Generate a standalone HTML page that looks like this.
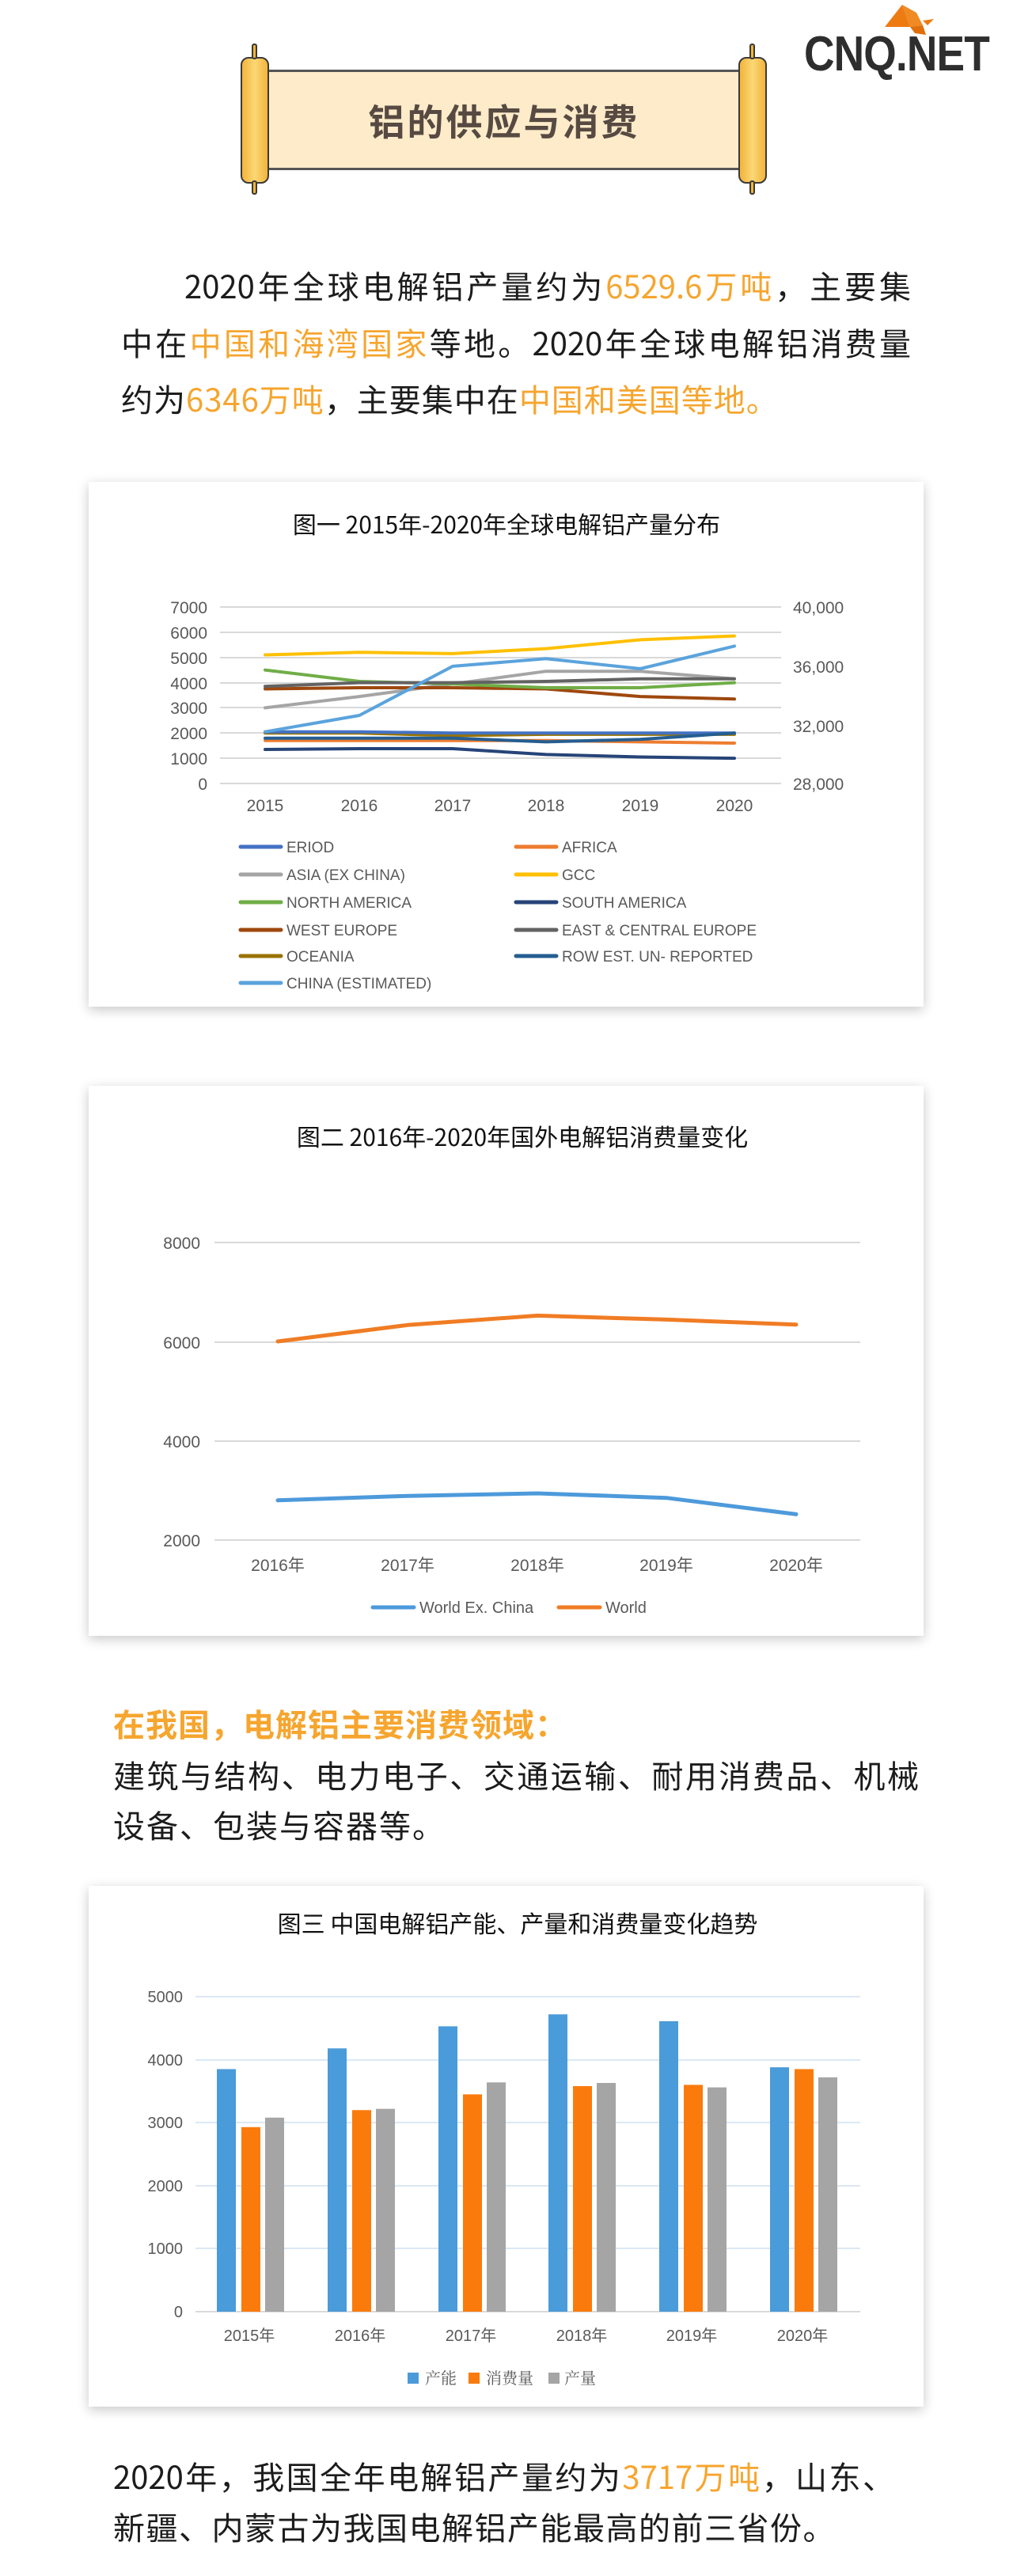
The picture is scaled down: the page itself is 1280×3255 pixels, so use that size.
<!DOCTYPE html>
<html><head><meta charset="utf-8">
<style>
*{margin:0;padding:0;box-sizing:border-box}
body{width:1280px;height:3255px;background:#fff;position:relative;overflow:hidden;font-family:"Liberation Sans","Noto Sans CJK SC",sans-serif}
.abs{position:absolute}
.card{position:absolute;left:112px;width:1055px;background:#fff;box-shadow:0 4px 14px rgba(0,0,0,0.22)}
.p{position:absolute;left:153px;width:998px;font-size:40px;line-height:48px;color:#1c1c1c;white-space:nowrap;font-family:"Noto Sans CJK SC","WenQuanYi Zen Hei",sans-serif}
.j{text-align:justify;text-align-last:justify}
.o{color:#F6A52E}
</style></head><body>

<!-- logo -->
<svg class="abs" style="left:1110px;top:4px" width="76" height="42" viewBox="0 0 76 42">
<polygon points="30,2 8,30 40,30" fill="#EE7A12"/>
<polygon points="30,2 40,30 56,28 48,12" fill="#F08A22"/>
<polygon points="40,30 56,28 60,40 46,38" fill="#E06E0A"/>
<polygon points="56,22 70,20 62,28" fill="#EE7A12"/>
</svg>
<div class="abs" style="left:1016px;top:38px;width:262px;height:62px;font-family:'Liberation Sans',sans-serif;font-weight:bold;font-size:62px;line-height:62px;color:#2e2e2e;transform:scaleX(0.86);transform-origin:left top;letter-spacing:-1px;white-space:nowrap">CNQ.NET</div>

<!-- scroll -->
<div class="abs" style="left:339px;top:88px;width:596px;height:127px;background:#FDEBC9;border-top:3px solid #555;border-bottom:3px solid #555"></div>
<div class="abs" style="left:304px;top:72px;width:36px;height:160px;background:linear-gradient(90deg,#F3B43A,#FBD776 50%,#F3B43A);border:2px solid #3a3a3a;border-radius:10px"></div>
<div class="abs" style="left:318px;top:55px;width:7px;height:20px;background:#F3B43A;border:2px solid #3a3a3a;border-radius:3px"></div>
<div class="abs" style="left:318px;top:228px;width:7px;height:18px;background:#F3B43A;border:2px solid #3a3a3a;border-radius:3px"></div>
<div class="abs" style="left:933px;top:72px;width:36px;height:160px;background:linear-gradient(90deg,#F3B43A,#FBD776 50%,#F3B43A);border:2px solid #3a3a3a;border-radius:10px"></div>
<div class="abs" style="left:947px;top:55px;width:7px;height:20px;background:#F3B43A;border:2px solid #3a3a3a;border-radius:3px"></div>
<div class="abs" style="left:947px;top:228px;width:7px;height:18px;background:#F3B43A;border:2px solid #3a3a3a;border-radius:3px"></div>
<div class="abs" style="left:339px;top:124px;width:596px;text-align:center;font-family:'Noto Sans CJK SC',sans-serif;font-weight:bold;font-size:46px;line-height:56px;color:#564a42;letter-spacing:3px">铝的供应与消费</div>

<!-- paragraph 1 -->
<div class="p j" style="top:336px;left:233px;width:918px">2020年全球电解铝产量约为<span class="o">6529.6万吨</span>，主要集</div>
<div class="p j" style="top:408px">中在<span class="o">中国和海湾国家</span>等地。2020年全球电解铝消费量</div>
<div class="p" style="top:479px;letter-spacing:1px">约为<span class="o">6346万吨</span>，主要集中在<span class="o">中国和美国等地。</span></div>

<!-- cards -->
<div class="card" style="top:609px;height:663px"></div>
<div class="card" style="top:1372px;height:695px"></div>
<div class="card" style="top:2383px;height:658px"></div>

<!-- paragraph 2 -->
<div class="p o" style="top:2153px;left:143px;font-weight:bold;letter-spacing:1px">在我国，电解铝主要消费领域：</div>
<div class="p j" style="top:2218px;left:143px;width:1018px">建筑与结构、电力电子、交通运输、耐用消费品、机械</div>
<div class="p" style="top:2281px;left:143px;letter-spacing:2px">设备、包装与容器等。</div>

<div class="p" style="top:3104px;left:143px;width:987px;text-align:justify;text-align-last:justify">2020年，我国全年电解铝产量约为<span class="o">3717万吨</span>，山东、</div>
<div class="p" style="top:3168px;left:143px;letter-spacing:1.5px">新疆、内蒙古为我国电解铝产能最高的前三省份。</div>

<svg class="abs" style="left:0;top:0" width="1280" height="3255" font-family="Liberation Sans, Noto Sans CJK SC, sans-serif">
<!-- chart 1 -->
<text x="640" y="674" text-anchor="middle" font-size="30" fill="#111" font-family="Noto Sans CJK SC, sans-serif">图一 2015年-2020年全球电解铝产量分布</text>
<g stroke="#d9d9d9" stroke-width="2">
<line x1="278" x2="987" y1="767" y2="767"/><line x1="278" x2="987" y1="799" y2="799"/><line x1="278" x2="987" y1="831" y2="831"/><line x1="278" x2="987" y1="863" y2="863"/><line x1="278" x2="987" y1="894" y2="894"/><line x1="278" x2="987" y1="926" y2="926"/><line x1="278" x2="987" y1="958" y2="958"/><line x1="278" x2="987" y1="990" y2="990"/>
</g>
<g font-size="21" fill="#595959" text-anchor="end">
<text x="262" y="775">7000</text><text x="262" y="807">6000</text><text x="262" y="839">5000</text><text x="262" y="871">4000</text><text x="262" y="902">3000</text><text x="262" y="934">2000</text><text x="262" y="966">1000</text><text x="262" y="998">0</text>
</g>
<g font-size="21" fill="#595959">
<text x="1002" y="775">40,000</text><text x="1002" y="850">36,000</text><text x="1002" y="925">32,000</text><text x="1002" y="998">28,000</text>
</g>
<g font-size="21" fill="#595959" text-anchor="middle">
<text x="335" y="1025">2015</text><text x="454" y="1025">2016</text><text x="572" y="1025">2017</text><text x="690" y="1025">2018</text><text x="809" y="1025">2019</text><text x="928" y="1025">2020</text>
</g>
<g fill="none" stroke-width="4" stroke-linejoin="round" stroke-linecap="round">
<polyline stroke="#997300" points="335,926.3 454,926.3 572,929.5 690,927.9 809,927.9 928,927.9"/>
<polyline stroke="#ED7D31" points="335,935.8 454,935.8 572,935.8 690,935.8 809,937.4 928,939"/>
<polyline stroke="#4472C4" points="335,924.7 454,924.7 572,926.3 690,926.3 809,926.3 928,926.3"/>
<polyline stroke="#255E91" points="335,932.7 454,932.7 572,932.7 690,937.4 809,934.2 928,926.3"/>
<polyline stroke="#264478" points="335,947 454,946 572,946 690,953.4 809,956.5 928,958.1"/>
<polyline stroke="#A5A5A5" points="335,894.4 454,880.1 572,864.2 690,848.2 809,848.2 928,857.8"/>
<polyline stroke="#9E480E" points="335,870.5 454,869 572,869 690,870.5 809,880.1 928,883.3"/>
<polyline stroke="#70AD47" points="335,846.6 454,861 572,864.2 690,869 809,869 928,862.6"/>
<polyline stroke="#636363" points="335,867.3 454,862.6 572,862.6 690,861 809,857.8 928,857.8"/>
<polyline stroke="#FFC000" points="335,827.5 454,824.3 572,825.9 690,819.6 809,808.4 928,803.6"/>
<polyline stroke="#5BA3DC" points="335,924.7 454,904 572,841.9 690,832.3 809,845 928,816.4"/>
</g>
<g stroke-width="5" stroke-linecap="round">
<line x1="304" x2="355" y1="1070" y2="1070" stroke="#4472C4"/>
<line x1="652" x2="703" y1="1070" y2="1070" stroke="#ED7D31"/>
<line x1="304" x2="355" y1="1105" y2="1105" stroke="#A5A5A5"/>
<line x1="652" x2="703" y1="1105" y2="1105" stroke="#FFC000"/>
<line x1="304" x2="355" y1="1140" y2="1140" stroke="#70AD47"/>
<line x1="652" x2="703" y1="1140" y2="1140" stroke="#264478"/>
<line x1="304" x2="355" y1="1175" y2="1175" stroke="#9E480E"/>
<line x1="652" x2="703" y1="1175" y2="1175" stroke="#636363"/>
<line x1="304" x2="355" y1="1208" y2="1208" stroke="#997300"/>
<line x1="652" x2="703" y1="1208" y2="1208" stroke="#255E91"/>
<line x1="304" x2="355" y1="1242" y2="1242" stroke="#5BA3DC"/>
</g>
<g font-size="19" fill="#595959">
<text x="362" y="1077">ERIOD</text><text x="710" y="1077">AFRICA</text>
<text x="362" y="1112">ASIA (EX CHINA)</text><text x="710" y="1112">GCC</text>
<text x="362" y="1147">NORTH AMERICA</text><text x="710" y="1147">SOUTH AMERICA</text>
<text x="362" y="1182">WEST EUROPE</text><text x="710" y="1182">EAST &amp; CENTRAL EUROPE</text>
<text x="362" y="1215">OCEANIA</text><text x="710" y="1215">ROW EST. UN- REPORTED</text>
<text x="362" y="1249">CHINA (ESTIMATED)</text>
</g>

<!-- chart 2 -->
<text x="660" y="1448" text-anchor="middle" font-size="30" fill="#111" font-family="Noto Sans CJK SC, sans-serif">图二 2016年-2020年国外电解铝消费量变化</text>
<g stroke="#d9d9d9" stroke-width="2">
<line x1="271" x2="1087" y1="1570" y2="1570"/><line x1="271" x2="1087" y1="1696" y2="1696"/><line x1="271" x2="1087" y1="1821" y2="1821"/><line x1="271" x2="1087" y1="1946" y2="1946"/>
</g>
<g font-size="21" fill="#595959" text-anchor="end">
<text x="253" y="1578">8000</text><text x="253" y="1704">6000</text><text x="253" y="1829">4000</text><text x="253" y="1954">2000</text>
</g>
<g font-size="21" fill="#595959" text-anchor="middle">
<text x="351" y="1985">2016年</text><text x="515" y="1985">2017年</text><text x="679" y="1985">2018年</text><text x="842" y="1985">2019年</text><text x="1006" y="1985">2020年</text>
</g>
<g fill="none" stroke-width="5" stroke-linejoin="round" stroke-linecap="round">
<polyline stroke="#F07C24" points="351,1695 515,1674.3 679,1662.4 842,1667.4 1006,1673.7"/>
<polyline stroke="#4D9ADB" points="351,1895.8 515,1890.2 679,1887 842,1892.7 1006,1913.4"/>
</g>
<line x1="471" x2="523" y1="2031" y2="2031" stroke="#4D9ADB" stroke-width="5" stroke-linecap="round"/>
<line x1="706" x2="758" y1="2031" y2="2031" stroke="#F07C24" stroke-width="5" stroke-linecap="round"/>
<g font-size="20" fill="#595959"><text x="530" y="2038">World Ex. China</text><text x="765" y="2038">World</text></g>

<!-- chart 3 -->
<text x="654" y="2442" text-anchor="middle" font-size="30" fill="#111" font-family="Noto Sans CJK SC, sans-serif">图三 中国电解铝产能、产量和消费量变化趋势</text>
<g stroke="#DCE8F4" stroke-width="2">
<line x1="247" x2="1087" y1="2523" y2="2523"/><line x1="247" x2="1087" y1="2603" y2="2603"/><line x1="247" x2="1087" y1="2682" y2="2682"/><line x1="247" x2="1087" y1="2762" y2="2762"/><line x1="247" x2="1087" y1="2841" y2="2841"/>
</g>
<line x1="247" x2="1087" y1="2921" y2="2921" stroke="#d9d9d9" stroke-width="2"/>
<g font-size="20" fill="#595959" text-anchor="end">
<text x="231" y="2530">5000</text><text x="231" y="2610">4000</text><text x="231" y="2689">3000</text><text x="231" y="2769">2000</text><text x="231" y="2848">1000</text><text x="231" y="2928">0</text>
</g>
<g fill="#4A9BD9">
<rect x="274" y="2614.5" width="24" height="306.5"/><rect x="414" y="2588.3" width="24" height="332.7"/><rect x="554" y="2560.4" width="24" height="360.6"/><rect x="693" y="2545.3" width="24" height="375.7"/><rect x="833" y="2554" width="24" height="367"/><rect x="973" y="2612.2" width="24" height="308.8"/>
</g>
<g fill="#FA7B0C">
<rect x="305" y="2687.8" width="24" height="233.2"/><rect x="445" y="2666.3" width="24" height="254.7"/><rect x="585" y="2646.4" width="24" height="274.6"/><rect x="724" y="2636" width="24" height="285"/><rect x="864" y="2634.4" width="24" height="286.6"/><rect x="1004" y="2614.5" width="24" height="306.5"/>
</g>
<g fill="#A5A5A5">
<rect x="335" y="2675.8" width="24" height="245.2"/><rect x="475" y="2664.7" width="24" height="256.3"/><rect x="615" y="2631.3" width="24" height="289.7"/><rect x="754" y="2632" width="24" height="289"/><rect x="894" y="2637.6" width="24" height="283.4"/><rect x="1034" y="2624.9" width="24" height="296.1"/>
</g>
<g font-size="20" fill="#595959" text-anchor="middle">
<text x="315" y="2958">2015年</text><text x="455" y="2958">2016年</text><text x="595" y="2958">2017年</text><text x="735" y="2958">2018年</text><text x="874" y="2958">2019年</text><text x="1014" y="2958">2020年</text>
</g>
<rect x="515" y="2998" width="14" height="14" fill="#4A9BD9"/>
<rect x="592" y="2998" width="14" height="14" fill="#FA7B0C"/>
<rect x="693" y="2998" width="14" height="14" fill="#A5A5A5"/>
<g font-size="20" fill="#595959" font-family="Noto Serif CJK SC, serif"><text x="537" y="3012">产能</text><text x="614" y="3012">消费量</text><text x="713" y="3012">产量</text></g>
</svg>
</body></html>
